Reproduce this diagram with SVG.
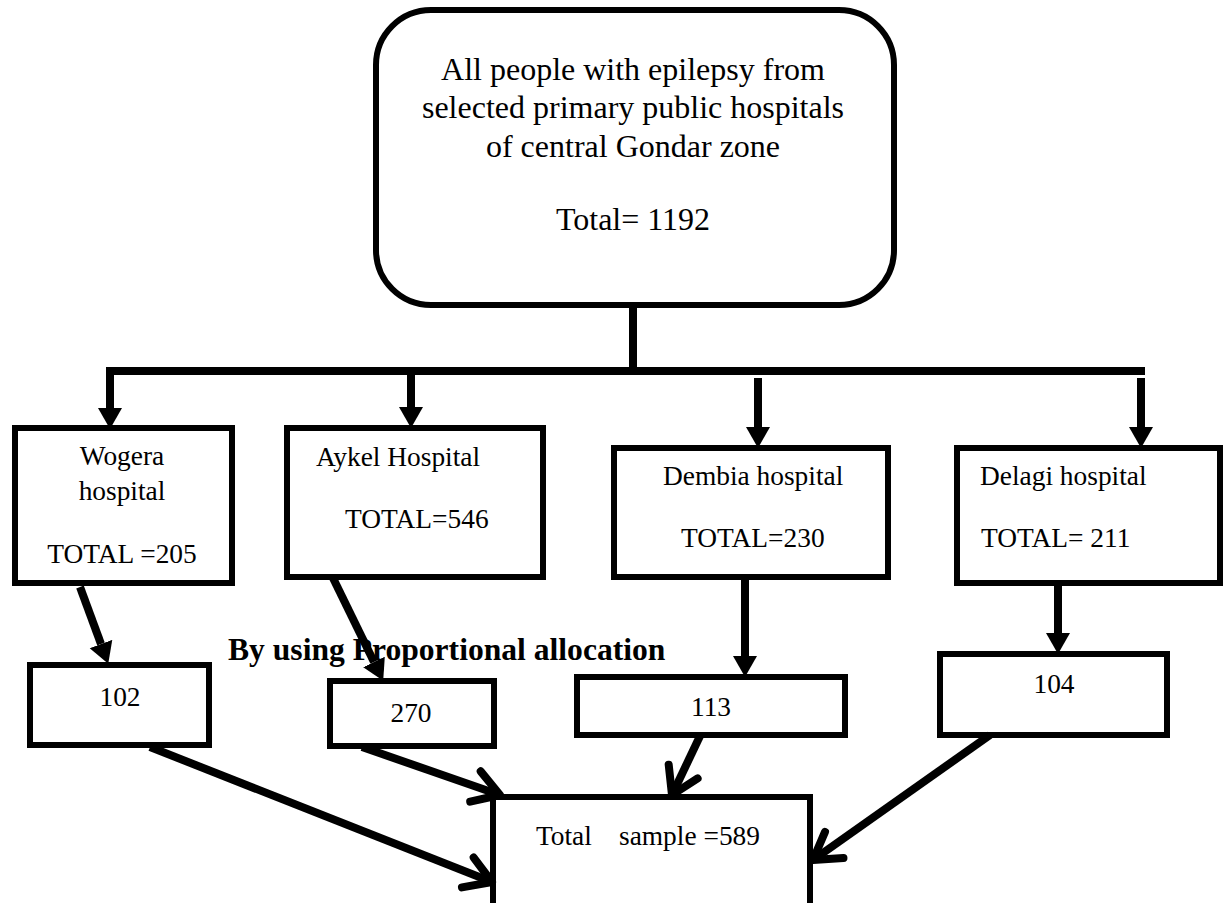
<svg xmlns="http://www.w3.org/2000/svg" width="1225" height="903" viewBox="0 0 1225 903">
<style>
.box{fill:#fff;stroke:#000;stroke-width:6}
.t{font-family:"Liberation Serif","Times New Roman",serif;fill:#000}
.big{font-size:32px}
.m{font-size:27.4px}
.b{font-size:31.6px;font-weight:bold}
.ln{fill:none;stroke:#000;stroke-width:8}
.fa{fill:none;stroke:#000;stroke-width:8;marker-end:url(#tri)}
.oa{fill:none;stroke:#000;stroke-width:8;marker-end:url(#chev)}
</style>
<defs>
<marker id="tri" markerUnits="userSpaceOnUse" markerWidth="22" markerHeight="26" refX="0" refY="13" orient="auto">
<path d="M0,1 L21,13 L0,25 z" fill="#000"/>
</marker>
<marker id="chev" markerUnits="userSpaceOnUse" markerWidth="40" markerHeight="44" refX="32" refY="22" orient="auto" overflow="visible">
<path d="M6,6 L32,22 L6,38" fill="none" stroke="#000" stroke-width="8" stroke-linecap="round" stroke-linejoin="round"/>
</marker>
</defs>

<g id="top">
<rect class="box" x="376" y="10" width="518" height="295" rx="55" ry="55"/>
<text class="t big" text-anchor="middle" x="633" y="80">All people with epilepsy from</text>
<text class="t big" text-anchor="middle" x="633" y="118">selected primary public hospitals</text>
<text class="t big" text-anchor="middle" x="633" y="157">of central Gondar zone</text>
<text class="t big" text-anchor="middle" x="633" y="230">Total= 1192</text>
</g>

<g id="wogera">
<rect class="box" x="15" y="428" width="217" height="155"/>
<text class="t m" text-anchor="middle" x="122" y="465">Wogera</text>
<text class="t m" text-anchor="middle" x="122" y="500">hospital</text>
<text class="t m" text-anchor="middle" x="122" y="563">TOTAL =205</text>
</g>
<g id="aykel">
<rect class="box" x="287" y="428" width="256" height="149"/>
<text class="t m" x="316" y="466">Aykel Hospital</text>
<text class="t m" x="345" y="528">TOTAL=546</text>
</g>
<g id="dembia">
<rect class="box" x="614" y="448" width="274" height="129"/>
<text class="t m" x="663" y="485">Dembia hospital</text>
<text class="t m" x="681" y="547">TOTAL=230</text>
</g>
<g id="delagi">
<rect class="box" x="957" y="448" width="263" height="135"/>
<text class="t m" x="980" y="485">Delagi hospital</text>
<text class="t m" x="981" y="547">TOTAL= 211</text>
</g>

<g id="n102">
<rect class="box" x="30" y="665" width="179" height="80"/>
<text class="t m" text-anchor="middle" x="120" y="706">102</text>
</g>
<g id="n270">
<rect class="box" x="330" y="681" width="164" height="65"/>
<text class="t m" text-anchor="middle" x="411" y="722">270</text>
</g>
<g id="n113">
<rect class="box" x="577" y="677" width="268" height="58"/>
<text class="t m" text-anchor="middle" x="711" y="716">113</text>
</g>
<g id="n104">
<rect class="box" x="940" y="654" width="227" height="81"/>
<text class="t m" text-anchor="middle" x="1054" y="693">104</text>
</g>
<g id="total">
<rect class="box" x="493" y="797" width="317" height="115"/>
<text class="t m" y="845"><tspan x="536">Total</tspan><tspan x="619">sample =589</tspan></text>
</g>

<g id="label">
<text class="t b" x="228" y="660">By using Proportional allocation</text>
</g>

<g id="connectors">
<path class="ln" d="M633,305 V371"/>
<path class="ln" d="M106,371 H1145"/>
<path class="fa" d="M110,367 V408"/>
<path class="fa" d="M411,375 V407"/>
<path class="fa" d="M758,378 V427"/>
<path class="fa" d="M1141,378 V427"/>
<path class="fa" d="M80,587 L101,644"/>
<path class="fa" d="M333,578 L374,662"/>
<path class="fa" d="M745,578 V656"/>
<path class="fa" d="M1058,585 V633"/>
<path class="oa" d="M150,747 L492,882"/>
<path class="oa" d="M362,747 L500,795"/>
<path class="oa" d="M700,736 L672,795"/>
<path class="oa" d="M990,735 L813,860"/>
</g>
</svg>
